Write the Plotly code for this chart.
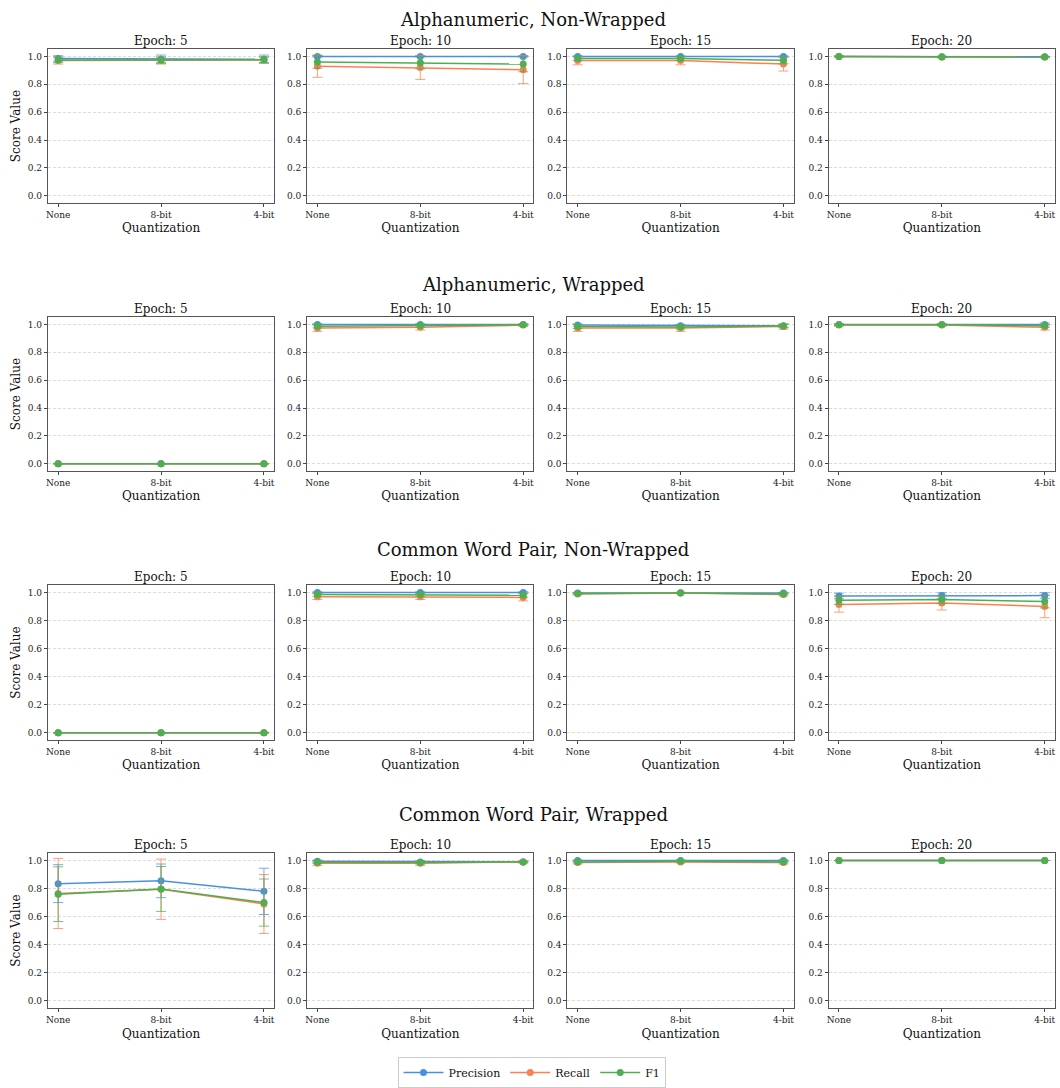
import plotly.graph_objects as go

# ---- data -------------------------------------------------------------
QUANT = ["None", "8-bit", "4-bit"]
EPOCHS = [5, 10, 15, 20]
DATASETS = [
    "Alphanumeric, Non-Wrapped",
    "Alphanumeric, Wrapped",
    "Common Word Pair, Non-Wrapped",
    "Common Word Pair, Wrapped",
]

# each list: one row per epoch (5, 10, 15, 20), one value per quantization
an_nw_prec = [[0.985, 0.980, 0.980], [1.000, 1.000, 1.000], [1.000, 1.000, 1.000], [1.000, 0.997, 0.997]]
an_nw_prec_err = [[0.020, 0.030, 0.030], [0.005, 0.005, 0.005], [0.004, 0.004, 0.004], [0.003, 0.004, 0.004]]
an_nw_rec = [[0.970, 0.970, 0.975], [0.930, 0.920, 0.905], [0.970, 0.970, 0.945], [1.000, 0.995, 0.995]]
an_nw_rec_err = [[0.025, 0.025, 0.020], [0.080, 0.085, 0.100], [0.030, 0.030, 0.050], [0.003, 0.005, 0.005]]
an_nw_f1 = [[0.975, 0.975, 0.977], [0.960, 0.955, 0.945], [0.985, 0.985, 0.972], [1.000, 0.996, 0.996]]
an_nw_f1_err = [[0.020, 0.020, 0.020], [0.045, 0.045, 0.055], [0.015, 0.015, 0.025], [0.003, 0.004, 0.004]]

an_w_prec = [[0.0, 0.0, 0.0], [1.000, 1.000, 1.000], [0.995, 0.990, 0.990], [1.000, 1.000, 1.000]]
an_w_prec_err = [[0.0, 0.0, 0.0], [0.005, 0.005, 0.004], [0.008, 0.010, 0.010], [0.006, 0.005, 0.010]]
an_w_rec = [[0.0, 0.0, 0.0], [0.975, 0.980, 0.995], [0.975, 0.975, 0.985], [0.995, 0.995, 0.980]]
an_w_rec_err = [[0.0, 0.0, 0.0], [0.025, 0.020, 0.010], [0.025, 0.025, 0.020], [0.008, 0.008, 0.020]]
an_w_f1 = [[0.0, 0.0, 0.0], [0.987, 0.990, 0.997], [0.985, 0.982, 0.988], [0.997, 0.997, 0.990]]
an_w_f1_err = [[0.0, 0.0, 0.0], [0.012, 0.010, 0.005], [0.015, 0.015, 0.012], [0.005, 0.005, 0.012]]

cw_nw_prec = [[0.0, 0.0, 0.0], [1.000, 1.000, 1.000], [0.997, 0.998, 0.997], [0.975, 0.978, 0.978]]
cw_nw_prec_err = [[0.0, 0.0, 0.0], [0.005, 0.005, 0.005], [0.004, 0.003, 0.004], [0.020, 0.020, 0.020]]
cw_nw_rec = [[0.0, 0.0, 0.0], [0.970, 0.970, 0.965], [0.990, 0.997, 0.985], [0.915, 0.925, 0.900]]
cw_nw_rec_err = [[0.0, 0.0, 0.0], [0.020, 0.020, 0.025], [0.008, 0.004, 0.010], [0.055, 0.050, 0.080]]
cw_nw_f1 = [[0.0, 0.0, 0.0], [0.985, 0.985, 0.980], [0.993, 0.997, 0.990], [0.945, 0.950, 0.935]]
cw_nw_f1_err = [[0.0, 0.0, 0.0], [0.012, 0.012, 0.015], [0.005, 0.003, 0.006], [0.030, 0.030, 0.045]]

cw_w_prec = [[0.835, 0.855, 0.780], [0.995, 0.990, 0.990], [1.000, 1.000, 1.000], [1.000, 1.000, 1.000]]
cw_w_prec_err = [[0.135, 0.120, 0.165], [0.008, 0.008, 0.005], [0.004, 0.004, 0.005], [0.0, 0.0, 0.0]]
cw_w_rec = [[0.765, 0.795, 0.690], [0.980, 0.980, 0.990], [0.985, 0.990, 0.985], [1.000, 1.000, 1.000]]
cw_w_rec_err = [[0.250, 0.215, 0.210], [0.015, 0.015, 0.008], [0.010, 0.008, 0.010], [0.0, 0.0, 0.0]]
cw_w_f1 = [[0.760, 0.797, 0.700], [0.988, 0.985, 0.990], [0.990, 0.995, 0.990], [1.000, 1.000, 1.000]]
cw_w_f1_err = [[0.195, 0.160, 0.168], [0.010, 0.010, 0.006], [0.006, 0.005, 0.006], [0.0, 0.0, 0.0]]

METRICS = ["Precision", "Recall", "F1"]
COLORS = {"Precision": "#4a90e2", "Recall": "#ff7f50", "F1": "#4caf50"}
ERR_COLORS = {"Precision": "rgba(74,144,226,0.75)", "Recall": "rgba(255,127,80,0.75)",
              "F1": "rgba(76,175,80,0.75)"}

SERIES = [
    {"Precision": (an_nw_prec, an_nw_prec_err), "Recall": (an_nw_rec, an_nw_rec_err), "F1": (an_nw_f1, an_nw_f1_err)},
    {"Precision": (an_w_prec, an_w_prec_err), "Recall": (an_w_rec, an_w_rec_err), "F1": (an_w_f1, an_w_f1_err)},
    {"Precision": (cw_nw_prec, cw_nw_prec_err), "Recall": (cw_nw_rec, cw_nw_rec_err), "F1": (cw_nw_f1, cw_nw_f1_err)},
    {"Precision": (cw_w_prec, cw_w_prec_err), "Recall": (cw_w_rec, cw_w_rec_err), "F1": (cw_w_f1, cw_w_f1_err)},
]

# ---- layout geometry (pixels) ----------------------------------------
W, H = 1060, 1088
COL_X = [(46, 273), (306, 533), (567, 794), (829, 1056)]
ROW_Y = [(50, 205), (321, 476), (592, 748), (863, 1019)]
SUPTITLE_Y = [20, 288, 556, 824]
FONT = "DejaVu Serif, Liberation Serif, serif"


def px_x(x):
    return x / W


def px_y(y):
    return 1 - y / H


fig = go.Figure()
layout = {}
annotations = []

for r in range(4):
    y0, y1 = ROW_Y[r]
    annotations.append(dict(text=DATASETS[r], x=px_x(533), y=px_y(SUPTITLE_Y[r]),
                            xref="paper", yref="paper", showarrow=False,
                            font=dict(family=FONT, size=18, color="#111"),
                            xanchor="center", yanchor="middle"))
    for c in range(4):
        idx = r * 4 + c + 1
        xa = "xaxis" if idx == 1 else f"xaxis{idx}"
        ya = "yaxis" if idx == 1 else f"yaxis{idx}"
        xref = "x" if idx == 1 else f"x{idx}"
        yref = "y" if idx == 1 else f"y{idx}"
        x0, x1 = COL_X[c]
        layout[xa] = dict(
            domain=[px_x(x0), px_x(x1)], anchor=yref, range=[-0.1, 2.1],
            type="category", categoryorder="array", categoryarray=QUANT,
            showline=True, mirror=True, linecolor="#555", linewidth=1.1,
            ticks="outside", ticklen=3, tickcolor="#444", showgrid=False, zeroline=False,
            tickfont=dict(family=FONT, size=9, color="#222"),
            title=dict(text="Quantization", font=dict(family=FONT, size=12, color="#111"), standoff=5),
        )
        layout[ya] = dict(
            domain=[px_y(y1), px_y(y0)], anchor=xref, range=[-0.05, 1.05],
            tickvals=[0, 0.2, 0.4, 0.6, 0.8, 1.0], tickformat=".1f",
            showline=True, mirror=True, linecolor="#555", linewidth=1.1,
            ticks="outside", ticklen=3, tickcolor="#444", zeroline=False,
            showgrid=True, gridcolor="#dcdcdc", griddash="3px,2px", gridwidth=0.8,
            tickfont=dict(family=FONT, size=9, color="#222"),
        )
        if c == 0:
            layout[ya]["title"] = dict(text="Score Value", font=dict(family=FONT, size=12, color="#111"),
                                       standoff=4)
        annotations.append(dict(text=f"Epoch: {EPOCHS[c]}", x=px_x((x0 + x1) / 2), y=px_y(y0 - 9),
                                xref="paper", yref="paper", showarrow=False,
                                font=dict(family=FONT, size=12, color="#111"),
                                xanchor="center", yanchor="middle"))
        for m in METRICS:
            vals, errs = SERIES[r][m]
            fig.add_trace(go.Scatter(
                x=QUANT, y=vals[c], xaxis=xref, yaxis=yref,
                mode="lines+markers", name=m, legendgroup=m,
                showlegend=(idx == 1),
                line=dict(color=COLORS[m], width=1.5),
                marker=dict(color=COLORS[m], size=7),
                error_y=dict(type="data", array=errs[c], visible=True,
                             color=ERR_COLORS[m], thickness=1, width=5),
            ))

fig.update_layout(
    **layout,
    annotations=annotations,
    width=W, height=H,
    margin=dict(l=0, r=0, t=0, b=0),
    paper_bgcolor="white", plot_bgcolor="white",
    font=dict(family=FONT),
    legend=dict(orientation="h", x=px_x(532), xanchor="center", y=px_y(1069), yanchor="top",
                bordercolor="#cccccc", borderwidth=1, bgcolor="white",
                font=dict(family=FONT, size=11, color="#111"),
                itemwidth=40, tracegroupgap=0),
)

fig.write_html("out.html")
